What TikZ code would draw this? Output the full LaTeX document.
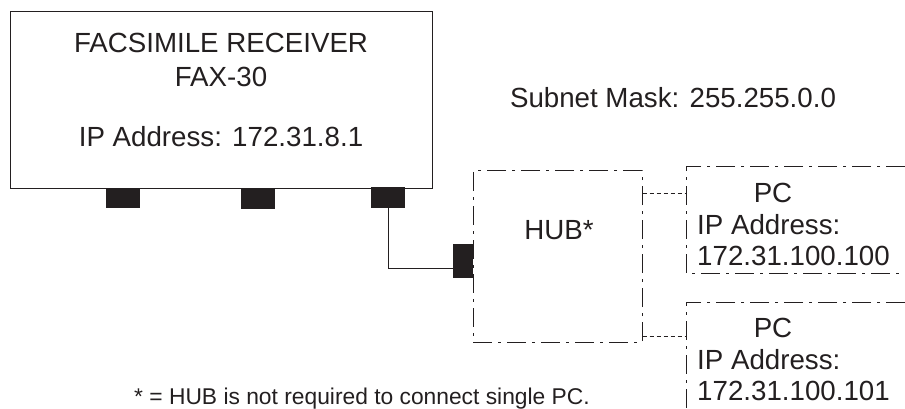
\documentclass[tikz,border=0pt]{standalone}
\usepackage{fontspec}
\setmainfont{Liberation Sans}
\usepackage{tikz}
\usetikzlibrary{positioning}
\definecolor{ink}{HTML}{231F20}
\tikzset{
  dashdot/.style={draw=ink, line width=1pt, dash pattern=on 19pt off 6pt on 3pt off 6pt},
  dotline/.style={draw=ink, line width=1pt, dash pattern=on 4pt off 3pt},
  port/.style={fill=ink, inner sep=0pt},
  txt/.style={text=ink, inner sep=0pt, font=\fontsize{27.7}{32}\selectfont},
  smalltxt/.style={text=ink, inner sep=0pt, font=\fontsize{22.8}{26}\selectfont},
}

\begin{document}
\begin{tikzpicture}[x=1pt,y=-1pt]
  \useasboundingbox (0,0) rectangle (905,409);
  % facsimile receiver
  \node[draw=ink,line width=1pt,inner sep=0pt,minimum width=422pt,minimum height=176pt](fax) at (221,100) {};
  \node[txt](faxname) at (221,43) {FACSIMILE RECEIVER};
  \node[txt](faxmodel) at (221,77) {FAX-30};
  \node[txt](faxip) at (221,137) {IP Address: 172.31.8.1};
  \node[port,minimum width=34pt,minimum height=20pt](port1) at (123,198) {};
  \node[port,minimum width=34pt,minimum height=21pt](port2) at (258,198) {};
  \node[port,minimum width=34pt,minimum height=21pt](port3) at (388,197) {};
  % hub
  \node[dashdot,inner sep=0pt,minimum width=169pt,minimum height=171pt](hub) at (557.5,256.5) {};
  \node[txt](hubname) at (559,230) {HUB*};
  \node[port,minimum width=20pt,minimum height=34pt](hubport) at (463,261) {};
  \draw[ink,line width=1pt] (port3.south) |- ([yshift=-7pt]hubport.west);
  % subnet
  \node[txt](subnet) at (673,98) {Subnet Mask: 255.255.0.0};
  % PCs
  \draw[dashdot] (905,167) -- (686,167) -- (686,273) -- (905,273);
  \node[txt](pcaname) at (773,193) {PC};
  \node[txt,anchor=west](pcaip) at (697,225) {IP Address:};
  \node[txt,anchor=west](pcaaddr) at (697,256) {172.31.100.100};
  \draw[dashdot] (905,302) -- (686,302) -- (686,409);
  \node[txt](pcbname) at (773,328) {PC};
  \node[txt,anchor=west](pcbip) at (697,360) {IP Address:};
  \node[txt,anchor=west](pcbaddr) at (697,391) {172.31.100.101};
  \coordinate (pca) at (686,193);
  \coordinate (pcb) at (686,336);
  \draw[dotline] (hub.east |- pca) -- (pca);
  \draw[dotline] (hub.east |- pcb) -- (pcb);
  % note
  \node[smalltxt](note) at (362,399) {* = HUB is not required to connect single PC.};
\end{tikzpicture}
\end{document}
